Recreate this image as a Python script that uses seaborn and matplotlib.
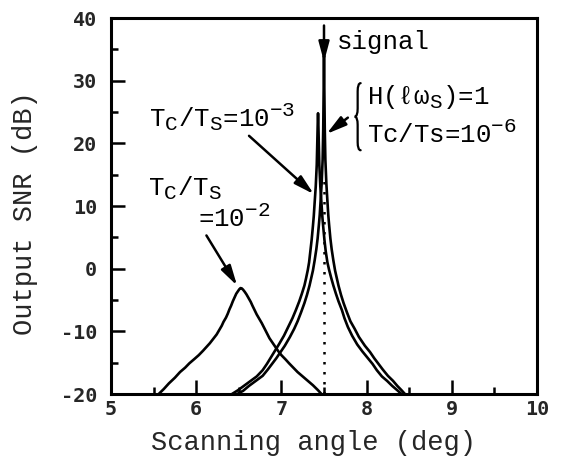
import numpy as np
import pandas as pd
import matplotlib
matplotlib.use("Agg")
import matplotlib.pyplot as plt
import matplotlib._mathtext as mathtext_impl
import seaborn as sns
from matplotlib.path import Path
from matplotlib.patches import PathPatch
from matplotlib.ticker import MultipleLocator

# Output SNR (dB) against scanning angle (deg) for three Tc/Ts ratios
angle_1e2 = [5.56, 5.62, 5.68, 5.75, 5.81, 5.87, 5.92, 5.98, 6.03, 6.08, 6.12, 6.16,
             6.20, 6.24, 6.27, 6.30, 6.32, 6.35, 6.37, 6.39, 6.41, 6.43, 6.45, 6.47,
             6.49, 6.505, 6.52, 6.535, 6.55, 6.57, 6.59, 6.615, 6.64, 6.66, 6.685,
             6.71, 6.74, 6.77, 6.80, 6.83, 6.86, 6.895, 6.93, 6.965, 7.00, 7.05, 7.09,
             7.14, 7.19, 7.25, 7.31, 7.37, 7.43, 7.47]
snr_1e2 = [-20.0, -19.2, -18.3, -17.4, -16.5, -15.8, -15.1, -14.4, -13.8, -13.1, -12.5, -11.9,
           -11.2, -10.5, -9.8, -9.1, -8.5, -7.8, -7.2, -6.5, -5.9, -5.2, -4.6, -4.0,
           -3.6, -3.3, -3.1, -3.15, -3.35, -3.7, -4.1, -4.7, -5.3, -5.9, -6.6,
           -7.3, -8.0, -8.7, -9.5, -10.3, -11.1, -11.8, -12.5, -13.2, -13.8, -14.5, -15.1,
           -15.8, -16.5, -17.2, -17.9, -18.6, -19.4, -20.0]

angle_1e3 = [6.42, 6.49, 6.56, 6.64, 6.71, 6.78, 6.83, 6.875, 6.92, 6.97, 7.03, 7.08,
             7.13, 7.17, 7.21, 7.24, 7.27, 7.29, 7.31, 7.325, 7.34, 7.355, 7.37, 7.38,
             7.39, 7.403, 7.415, 7.422, 7.427, 7.43,
             7.433, 7.438, 7.445, 7.457, 7.47, 7.48, 7.49, 7.505, 7.52, 7.54, 7.56, 7.585,
             7.61, 7.64, 7.67, 7.71, 7.74, 7.78, 7.83, 7.89, 7.95, 8.01, 8.07, 8.12,
             8.18, 8.24, 8.30, 8.36, 8.41]
snr_1e3 = [-20.0, -19.4, -18.7, -17.9, -17.2, -16.2, -15.2, -14.2, -13.2, -12.1, -10.7, -9.3,
           -7.9, -6.6, -5.2, -4.0, -2.7, -1.5, -0.2, 1.0, 2.8, 4.6, 6.8, 8.4,
           10.5, 13.1, 16.6, 20.6, 23.6, 24.8,
           23.6, 20.6, 16.6, 13.1, 10.5, 8.4, 6.8, 4.6, 2.8, 1.0, -0.2, -1.5,
           -2.7, -4.0, -5.2, -6.6, -7.9, -9.3, -10.7, -12.1, -13.2, -14.2, -15.2, -16.2,
           -17.2, -17.9, -18.7, -19.4, -20.0]

angle_1e6 = [6.48, 6.55, 6.62, 6.70, 6.78, 6.84, 6.89, 6.94, 6.99, 7.04, 7.10, 7.15,
             7.19, 7.23, 7.27, 7.30, 7.33, 7.35, 7.37, 7.39, 7.41, 7.425, 7.44, 7.45,
             7.46, 7.472, 7.484, 7.491, 7.496, 7.50,
             7.504, 7.509, 7.516, 7.528, 7.54, 7.55, 7.56, 7.575, 7.59, 7.61, 7.63, 7.65,
             7.67, 7.70, 7.73, 7.77, 7.81, 7.86, 7.91, 7.98, 8.04, 8.09, 8.14, 8.19,
             8.25, 8.31, 8.36, 8.41, 8.45]
snr_1e6 = [-20.0, -19.5, -18.7, -17.9, -17.1, -16.1, -15.2, -14.3, -13.3, -12.3, -10.9, -9.6,
           -8.4, -7.0, -5.5, -4.2, -2.7, -1.5, -0.3, 1.3, 3.1, 4.8, 7.0, 8.6,
           10.8, 13.5, 17.4, 22.3, 28.5, 34.0,
           28.5, 22.3, 17.4, 13.5, 10.8, 8.6, 7.0, 4.8, 3.1, 1.3, -0.3, -1.5,
           -2.7, -4.2, -5.5, -7.0, -8.4, -9.6, -10.9, -12.3, -13.3, -14.3, -15.2, -16.1,
           -17.1, -17.9, -18.7, -19.4, -20.0]

signal_angle = 7.5
x_ticks = [5, 6, 7, 8, 9, 10]
y_ticks = [-20, -10, 0, 10, 20, 30, 40]

sns.set_theme(style="ticks")
plt.rcParams["font.family"] = ["Liberation Mono", "DejaVu Sans Mono"]
plt.rcParams["mathtext.fontset"] = "custom"
plt.rcParams["mathtext.rm"] = "Liberation Mono"
plt.rcParams["mathtext.it"] = "Liberation Mono"
plt.rcParams["axes.unicode_minus"] = False
# larger sub/superscripts in the annotation formulas
mathtext_impl.SHRINK_FACTOR = 0.82

df = pd.concat([
    pd.DataFrame({"angle": angle_1e2, "snr": snr_1e2, "curve": "1e-2"}),
    pd.DataFrame({"angle": angle_1e3, "snr": snr_1e3, "curve": "1e-3"}),
    pd.DataFrame({"angle": angle_1e6, "snr": snr_1e6, "curve": "1e-6"}),
], ignore_index=True)

fig = plt.figure(figsize=(5.62, 4.59), dpi=100)
ax = fig.add_axes([111 / 562, 1 - 394 / 459, 426 / 562, 376 / 459])

# dotted marker of the signal direction
ax.vlines(signal_angle, -20, 14, colors="black", linestyles=(0, (1, 3)),
          lw=1.8, zorder=1)

sns.lineplot(data=df, x="angle", y="snr", units="curve", estimator=None,
             sort=False, color="black", lw=1.9, ax=ax, legend=False, zorder=3)

ax.set_xlim(5, 10)
ax.set_ylim(-20, 40)
ax.set_xticks(x_ticks)
ax.set_yticks(y_ticks)
ax.xaxis.set_minor_locator(MultipleLocator(0.5))
ax.yaxis.set_minor_locator(MultipleLocator(5))
ax.tick_params(which="both", direction="in", top=False, right=False,
               width=1.8, color="black")
ax.tick_params(which="major", length=10)
ax.tick_params(which="minor", length=5)
ax.tick_params(axis="x", pad=4)
ax.tick_params(axis="y", pad=10)
for lbl in ax.get_xticklabels() + ax.get_yticklabels():
    lbl.set_fontfamily("DejaVu Sans Mono")
    lbl.set_fontweight("bold")
    lbl.set_fontsize(14.5)
for sp in ax.spines.values():
    sp.set_linewidth(2.2)
    sp.set_color("black")

ax.set_xlabel("Scanning angle (deg)", fontsize=19.5)
ax.set_ylabel("Output SNR (dB)", fontsize=19.5)
ax.xaxis.set_label_coords(0.475, -0.095)
ax.yaxis.set_label_coords(-0.172, 0.48)

txt = dict(fontsize=18.5, color="black", ha="left", va="baseline")
ax.text(7.65, 35.0, "signal", **txt)
ax.text(5.45, 22.6, r"T$_\mathrm{C}$/T$_\mathrm{S}$=10$^{\mathrm{-3}}$", **txt)
ax.text(5.44, 11.65, r"T$_\mathrm{C}$/T$_\mathrm{S}$", **txt)
ax.text(6.02, 6.6, r"=10$^{\mathrm{-2}}$", **txt)
ax.text(8.0, 26.3, r"H(ℓω$_\mathrm{S}$)=1", **txt)
ax.text(8.0, 20.0, r"Tc/Ts=10$^{\mathrm{-6}}$", **txt)

arrow = dict(arrowstyle="-|>,head_length=1.2,head_width=0.32", color="black",
             lw=1.8, mutation_scale=10, shrinkA=0, shrinkB=0)
ax.annotate("", xy=(signal_angle, 33.0), xytext=(signal_angle, 38.8), arrowprops=arrow)
ax.annotate("", xy=(6.48, -2.7), xytext=(6.12, 5.3), arrowprops=arrow)
ax.annotate("", xy=(7.38, 11.9), xytext=(6.62, 21.2), arrowprops=arrow)
ax.annotate("", xy=(7.53, 21.5), xytext=(7.78, 24.1), arrowprops=arrow)


def curly_brace(ax, x_tip, x_end, y_bot, y_top, r):
    """Left-pointing brace between y_bot and y_top."""
    xm = (x_tip + x_end) / 2
    ym = (y_bot + y_top) / 2
    verts = [(x_end, y_top), (xm, y_top), (xm, y_top - r),
             (xm, ym + r), (xm, ym), (x_tip, ym),
             (xm, ym), (xm, ym - r),
             (xm, y_bot + r), (xm, y_bot), (x_end, y_bot)]
    codes = [Path.MOVETO, Path.CURVE3, Path.CURVE3,
             Path.LINETO, Path.CURVE3, Path.CURVE3,
             Path.CURVE3, Path.CURVE3,
             Path.LINETO, Path.CURVE3, Path.CURVE3]
    ax.add_patch(PathPatch(Path(verts, codes), fill=False, lw=1.6,
                           edgecolor="black", capstyle="round"))


curly_brace(ax, 7.86, 7.93, 18.9, 29.6, 1.3)

fig.savefig("out.png", dpi=100)
